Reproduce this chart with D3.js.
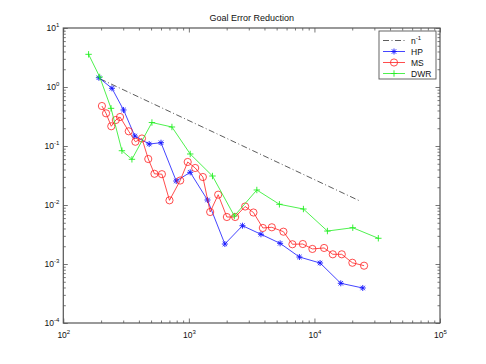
<!DOCTYPE html>
<meta charset="utf-8">
<style>
body { margin: 0; background: #fff; }
text { font-family: "Liberation Sans", Arial, Helvetica, sans-serif; fill: #111; }
</style>
<body>
<script src="https://cdn.jsdelivr.net/npm/d3@7"></script>
<script>

const width = 486, height = 364;
const plot = {left: 63.3, right: 440, top: 28, bottom: 323};

// series: n (dofs) and goal error
const hpN   = [192, 244, 302, 371, 483, 600, 793, 1025, 1407, 1935, 2672, 3750, 5330, 7593, 11090, 16210, 24260];
const hpErr = [1.437, 0.951, 0.408, 0.1477, 0.108, 0.1137, 0.0255, 0.0358, 0.01216, 0.00218, 0.00446, 0.00319, 0.00224, 0.001314, 0.00104, 0.000471, 0.000392];

const msN   = [203, 219, 241, 262, 283, 332, 375, 423, 475, 532, 610, 701, 853, 979, 1123, 1293, 1478, 1712, 2007, 2337, 2807, 3268, 3882, 4578, 5662, 6677, 8080, 9634, 11940, 14000, 16510, 20050, 24850];
const msErr = [0.476, 0.358, 0.216, 0.276, 0.310, 0.1775, 0.118, 0.134, 0.0602, 0.0338, 0.0333, 0.0120, 0.0260, 0.0536, 0.0424, 0.0298, 0.00761, 0.01495, 0.00626, 0.00626, 0.00943, 0.00746, 0.00408, 0.00419, 0.00353, 0.00216, 0.00218, 0.0018, 0.00187, 0.00146, 0.00146, 0.00105, 0.000936];

const dwrN   = [159, 195, 240, 293, 352, 508, 733, 1025, 1542, 2303, 3477, 5262, 8170, 12686, 20200, 32280];
const dwrErr = [3.58, 1.48, 0.435, 0.0832, 0.0595, 0.250, 0.210, 0.0732, 0.0310, 0.00651, 0.01796, 0.01028, 0.00855, 0.00362, 0.00412, 0.00273];

// n^-1 reference, end points
const refN   = [197, 23000];
const refErr = [1.37, 0.0117];

const xMajor = [1e2, 1e3, 1e4, 1e5];
const yMajor = [1e-4, 1e-3, 1e-2, 1e-1, 1e0, 1e1];

const minorOf = majors => majors.slice(0, -1).flatMap(d => d3.range(2, 10).map(k => d * k));

const x = d3.scaleLog().domain([1e2, 1e5]).range([plot.left, plot.right]);
const y = d3.scaleLog().domain([1e-4, 1e1]).range([plot.bottom, plot.top]);

const svg = d3.select("body").append("svg")
    .attr("width", width)
    .attr("height", height);

svg.append("rect").attr("width", width).attr("height", height).attr("fill", "#fff");

const axisColor = "#555";

function styleAxis(g) {
  g.select(".domain").remove();
  g.selectAll(".tick line").attr("stroke", axisColor).attr("stroke-width", 0.8);
}

function powerLabel(g, anchor) {
  g.selectAll(".tick text").each(function(d) {
    const t = d3.select(this);
    t.text(null)
      .attr("font-size", 8.5)
      .attr("fill", "#111")
      .attr("text-anchor", anchor);
    t.append("tspan").text("10");
    t.append("tspan").attr("dy", -4).attr("font-size", 6).text(Math.round(Math.log10(d)));
  });
}

// bottom
svg.append("g")
    .attr("transform", `translate(0,${plot.bottom})`)
    .call(d3.axisBottom(x).tickValues(xMajor).tickSize(-4.5).tickSizeOuter(0).tickPadding(9).tickFormat(""))
    .call(styleAxis)
    .call(g => powerLabel(g, "middle"));
svg.append("g")
    .attr("transform", `translate(0,${plot.bottom})`)
    .call(d3.axisBottom(x).tickValues(minorOf(xMajor)).tickSize(-2.5).tickFormat(""))
    .call(styleAxis);

// top
svg.append("g")
    .attr("transform", `translate(0,${plot.top})`)
    .call(d3.axisTop(x).tickValues(xMajor).tickSize(-4.5).tickFormat(""))
    .call(styleAxis);
svg.append("g")
    .attr("transform", `translate(0,${plot.top})`)
    .call(d3.axisTop(x).tickValues(minorOf(xMajor)).tickSize(-2.5).tickFormat(""))
    .call(styleAxis);

// left
svg.append("g")
    .attr("transform", `translate(${plot.left},0)`)
    .call(d3.axisLeft(y).tickValues(yMajor).tickSize(-4.5).tickPadding(4).tickFormat(""))
    .call(styleAxis)
    .call(g => powerLabel(g, "end"));
svg.append("g")
    .attr("transform", `translate(${plot.left},0)`)
    .call(d3.axisLeft(y).tickValues(minorOf(yMajor)).tickSize(-2.5).tickFormat(""))
    .call(styleAxis);

// right
svg.append("g")
    .attr("transform", `translate(${plot.right},0)`)
    .call(d3.axisRight(y).tickValues(yMajor).tickSize(-4.5).tickFormat(""))
    .call(styleAxis);
svg.append("g")
    .attr("transform", `translate(${plot.right},0)`)
    .call(d3.axisRight(y).tickValues(minorOf(yMajor)).tickSize(-2.5).tickFormat(""))
    .call(styleAxis);

// box
svg.append("rect")
    .attr("x", plot.left)
    .attr("y", plot.top)
    .attr("width", plot.right - plot.left)
    .attr("height", plot.bottom - plot.top)
    .attr("fill", "none")
    .attr("stroke", axisColor)
    .attr("stroke-width", 1.2);

svg.append("text")
    .attr("x", (plot.left + plot.right) / 2)
    .attr("y", 21)
    .attr("text-anchor", "middle")
    .attr("font-size", 9)
    .text("Goal Error Reduction");

const line = d3.line()
    .x(d => x(d[0]))
    .y(d => y(d[1]));

const markers = {
  star: "M-3,0H3M0,-3V3M-2.2,-2.2L2.2,2.2M-2.2,2.2L2.2,-2.2",
  plus: "M-3.2,0H3.2M0,-3.2V3.2"
};

const series = [
  {name: "HP", n: hpN, e: hpErr, color: "#1515ff", marker: "star"},
  {name: "MS", n: msN, e: msErr, color: "#ff2020", marker: "circle"},
  {name: "DWR", n: dwrN, e: dwrErr, color: "#22ee22", marker: "plus"}
];

const refColor = "#333";

svg.append("path")
    .attr("d", line(d3.zip(refN, refErr)))
    .attr("fill", "none")
    .attr("stroke", refColor)
    .attr("stroke-width", 0.8)
    .attr("stroke-dasharray", "6,2.5,1,2.5");

function drawMarker(g, kind, color) {
  if (kind === "circle") {
    g.append("circle").attr("r", 3.6)
      .attr("fill", "none").attr("stroke", color).attr("stroke-width", 0.8);
  } else {
    g.append("path").attr("d", markers[kind])
      .attr("fill", "none").attr("stroke", color).attr("stroke-width", 0.9);
  }
}

series.forEach(s => {
  const pts = d3.zip(s.n, s.e);
  svg.append("path")
      .attr("d", line(pts))
      .attr("fill", "none")
      .attr("stroke", s.color)
      .attr("stroke-width", 0.8);
  svg.append("g").selectAll("g")
    .data(pts)
    .join("g")
      .attr("transform", d => `translate(${x(d[0])},${y(d[1])})`)
      .each(function() { drawMarker(d3.select(this), s.marker, s.color); });
});

// legend
const legend = svg.append("g");
legend.append("rect")
    .attr("x", 379).attr("y", 31)
    .attr("width", 57).attr("height", 48)
    .attr("fill", "#fff")
    .attr("stroke", axisColor)
    .attr("stroke-width", 0.9);

const legendRows = [{name: "n", sup: "-1", color: refColor, ref: true}].concat(series);

legendRows.forEach((r, i) => {
  const yy = 40.5 + i * 11;
  const g = legend.append("g");
  g.append("line")
      .attr("x1", 383).attr("x2", 405)
      .attr("y1", yy).attr("y2", yy)
      .attr("stroke", r.color)
      .attr("stroke-width", 0.8)
      .attr("stroke-dasharray", r.ref ? "6,2.5,1,2.5" : null);
  if (!r.ref) drawMarker(g.append("g").attr("transform", `translate(394,${yy})`), r.marker, r.color);
  const t = g.append("text")
      .attr("x", 411)
      .attr("y", yy + 3)
      .attr("font-size", 8.5);
  t.append("tspan").text(r.name);
  if (r.sup) t.append("tspan").attr("dy", -4).attr("font-size", 6).text(r.sup);
});

</script>
